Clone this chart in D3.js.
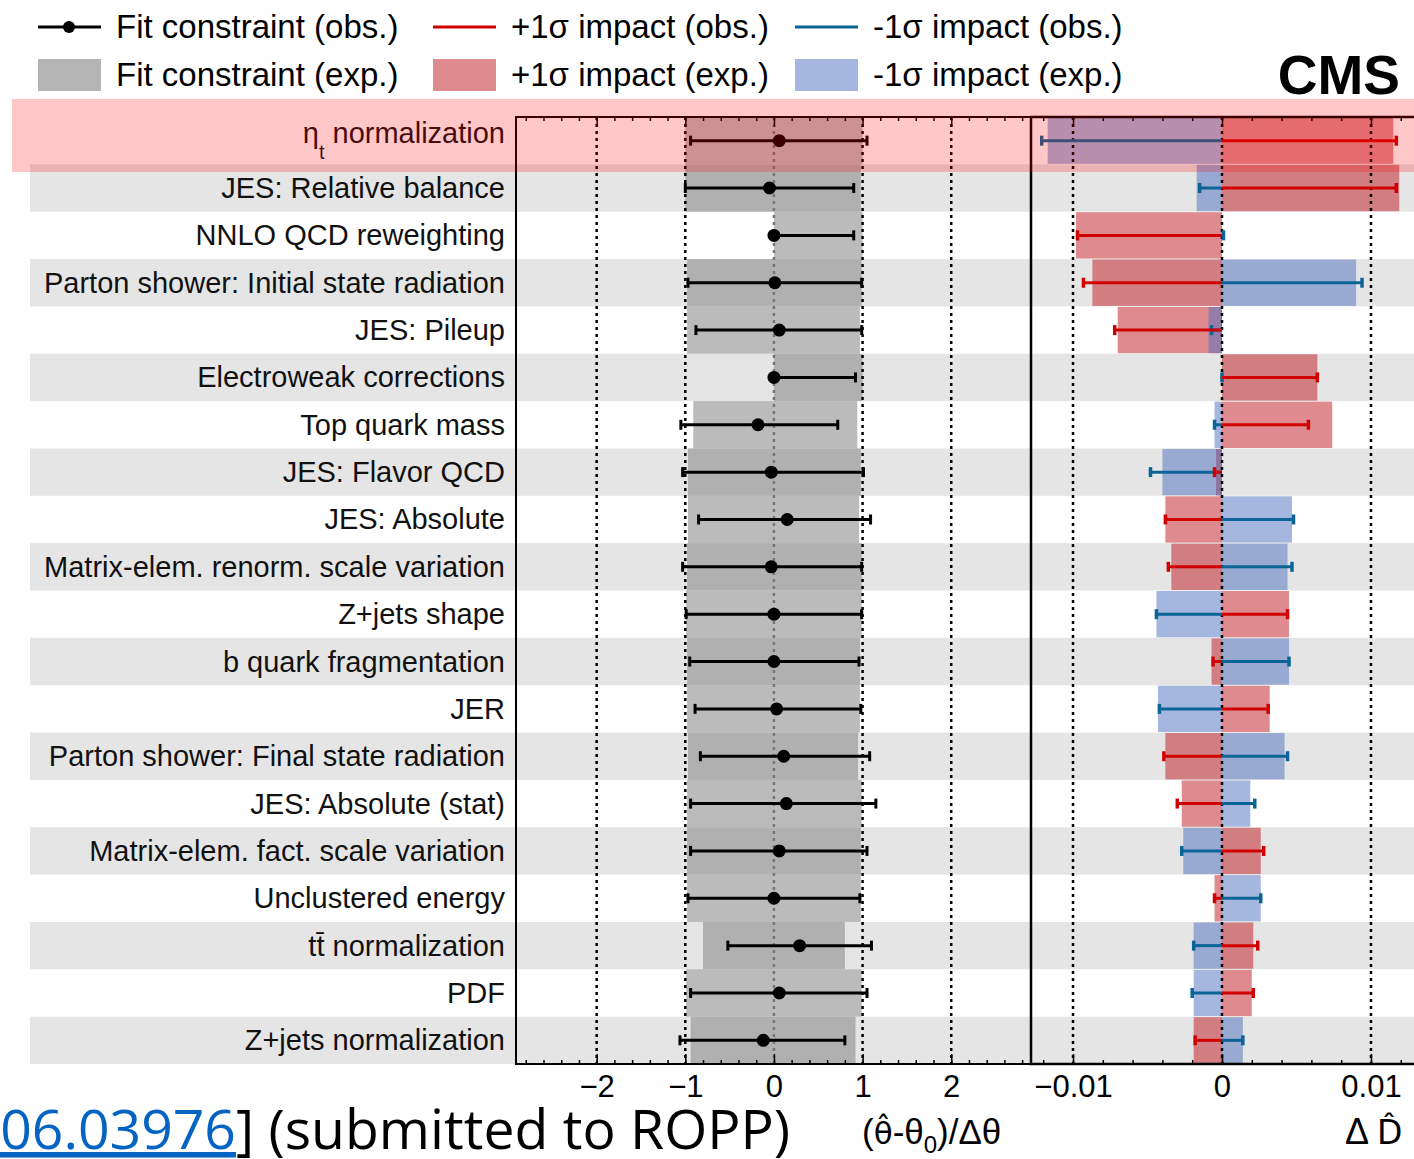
<!DOCTYPE html>
<html>
<head>
<meta charset="utf-8">
<script src="https://cdn.jsdelivr.net/npm/d3@7"></script>
<style>
  body { margin: 0; background: #fff; }
  svg { display: block; font-family: "Liberation Sans", Arial, sans-serif; }
</style>
</head>
<body>
<svg id="chart" width="1414" height="1159"></svg>
<script>
// nuisance parameters, top to bottom
const labels = [
  'η_t normalization', 'JES: Relative balance', 'NNLO QCD reweighting',
  'Parton shower: Initial state radiation', 'JES: Pileup', 'Electroweak corrections',
  'Top quark mass', 'JES: Flavor QCD', 'JES: Absolute', 'Matrix-elem. renorm. scale variation',
  'Z+jets shape', 'b quark fragmentation', 'JER', 'Parton shower: Final state radiation',
  'JES: Absolute (stat)', 'Matrix-elem. fact. scale variation', 'Unclustered energy',
  'tt̄ normalization', 'PDF', 'Z+jets normalization'
];

// fit constraint, expected band
const fitExpLo = [-1.0, -1.0, 0, -0.98, -0.98, 0, -0.91, -0.97, -0.97, -0.98, -0.99, -0.98, -0.98, -0.97, -0.98, -0.98, -0.98, -0.8, -0.99, -0.94];
const fitExpHi = [1.0, 0.98, 1.0, 0.99, 0.97, 1.0, 0.94, 0.98, 0.96, 0.99, 0.99, 0.97, 0.97, 0.95, 0.99, 0.98, 0.98, 0.8, 0.99, 0.92];
// fit constraint, observed
const fitObs = [0.06, -0.05, 0, 0.01, 0.06, 0, -0.18, -0.03, 0.15, -0.03, 0, 0, 0.03, 0.11, 0.14, 0.06, 0, 0.29, 0.06, -0.12];
const fitObsLo = [-0.94, -1.0, 0, -0.97, -0.88, 0, -1.05, -1.03, -0.85, -1.03, -0.99, -0.95, -0.89, -0.83, -0.94, -0.94, -0.97, -0.52, -0.94, -1.06];
const fitObsHi = [1.05, 0.9, 0.9, 0.99, 0.99, 0.92, 0.72, 1.01, 1.09, 0.99, 0.99, 0.96, 0.98, 1.08, 1.15, 1.05, 0.97, 1.1, 1.05, 0.8];

// impacts
const impUpExp = [0.0115, 0.0119, -0.0098, -0.0087, -0.0070, 0.0064, 0.0074, -0.0004, -0.0038, -0.0034, 0.0045, -0.0007, 0.0032, -0.0038, -0.0027, 0.0026, -0.0005, 0.0021, 0.0020, -0.0019];
const impUpObs = [0.0117, 0.0117, -0.0097, -0.0093, -0.0072, 0.0064, 0.0058, -0.0005, -0.0038, -0.0036, 0.0044, -0.0006, 0.0031, -0.0039, -0.0030, 0.0028, -0.0005, 0.0024, 0.0021, -0.0018];
const impDnExp = [-0.0117, -0.0017, 0, 0.0090, -0.0009, 0, -0.0005, -0.0040, 0.0047, 0.0044, -0.0044, 0.0045, -0.0043, 0.0042, 0.0019, -0.0026, 0.0026, -0.0019, -0.0019, 0.0014];
const impDnObs = [-0.0121, -0.0015, 0.0001, 0.0094, -0.0007, 0, -0.0005, -0.0048, 0.0048, 0.0047, -0.0044, 0.0045, -0.0042, 0.0044, 0.0022, -0.0027, 0.0026, -0.0019, -0.0020, 0.0014];

const fitTicks = [-2, -1, 0, 1, 2];
const impTicks = [-0.01, 0, 0.01];

const RED = '#d00000';
const BLUE = '#0a6496';

const svg = d3.select('#chart');
const n = labels.length;

const y = d3.scaleBand().domain(d3.range(n)).range([117, 1064]);
const xFit = d3.scaleLinear().domain([-2.91, 2.90]).range([516, 1031]);
const xImp = d3.scaleLinear().domain([-0.01282, 0.01403]).range([1031, 1431]);
const rowH = y.bandwidth();
const cy = i => y(i) + rowH / 2;

// alternating row backgrounds
svg.append('g')
  .selectAll('rect')
  .data(d3.range(n).filter(i => i % 2 === 1))
  .join('rect')
  .attr('x', 30).attr('width', 1414 - 30)
  .attr('y', i => y(i)).attr('height', rowH)
  .attr('fill', '#e5e5e5');

// labels
const lab = svg.append('g')
  .selectAll('text')
  .data(labels)
  .join('text')
  .attr('x', 505)
  .attr('y', (d, i) => cy(i) + 10)
  .attr('text-anchor', 'end')
  .style('font-size', '29px')
  .attr('fill', '#111');
lab.each(function(d) {
  const t = d3.select(this);
  if (d.startsWith('η_t')) {
    t.attr('y', +t.attr('y') - 8);
    t.append('tspan').text('η');
    t.append('tspan').attr('dy', 16).style('font-size', '20px').text('t');
    t.append('tspan').attr('dy', -16).text(' normalization');
  } else {
    t.text(d);
  }
});

// ---- left panel: fit constraints
const gFit = svg.append('g');
gFit.selectAll('rect')
  .data(d3.range(n))
  .join('rect')
  .attr('x', i => xFit(fitExpLo[i]))
  .attr('width', i => xFit(fitExpHi[i]) - xFit(fitExpLo[i]))
  .attr('y', i => y(i)).attr('height', rowH)
  .attr('fill', '#8a8a8a').attr('fill-opacity', 0.58);

gFit.selectAll('line.grid')
  .data(fitTicks)
  .join('line')
  .attr('class', 'grid')
  .attr('x1', d => xFit(d)).attr('x2', d => xFit(d))
  .attr('y1', 117).attr('y2', 1064)
  .attr('stroke', d => d === 0 ? '#777' : '#000')
  .attr('stroke-width', 2.5)
  .attr('stroke-dasharray', '3,4');

const eb = gFit.append('g').selectAll('g')
  .data(d3.range(n))
  .join('g');
eb.append('line')
  .attr('x1', i => xFit(fitObsLo[i])).attr('x2', i => xFit(fitObsHi[i]))
  .attr('y1', cy).attr('y2', cy)
  .attr('stroke', '#000').attr('stroke-width', 3);
eb.append('line')
  .attr('x1', i => xFit(fitObsLo[i])).attr('x2', i => xFit(fitObsLo[i]))
  .attr('y1', i => cy(i) - 5).attr('y2', i => cy(i) + 5)
  .attr('stroke', '#000').attr('stroke-width', 3);
eb.append('line')
  .attr('x1', i => xFit(fitObsHi[i])).attr('x2', i => xFit(fitObsHi[i]))
  .attr('y1', i => cy(i) - 5).attr('y2', i => cy(i) + 5)
  .attr('stroke', '#000').attr('stroke-width', 3);
eb.append('circle')
  .attr('cx', i => xFit(fitObs[i])).attr('cy', cy)
  .attr('r', 6.5).attr('fill', '#000');

// ---- right panel: impacts
const gImp = svg.append('g');
const bar = (vals, color) => gImp.append('g')
  .selectAll('rect')
  .data(d3.range(n))
  .join('rect')
  .attr('x', i => Math.min(xImp(0), xImp(vals[i])))
  .attr('width', i => Math.abs(xImp(vals[i]) - xImp(0)))
  .attr('y', i => y(i) + 0.5).attr('height', rowH - 1)
  .attr('fill', color).attr('fill-opacity', 0.5);
bar(impUpExp, '#bd151d');
bar(impDnExp, '#4b6fbf');

gImp.selectAll('line.grid')
  .data(impTicks)
  .join('line')
  .attr('class', 'grid')
  .attr('x1', d => xImp(d)).attr('x2', d => xImp(d))
  .attr('y1', 117).attr('y2', 1064)
  .attr('stroke', '#000')
  .attr('stroke-width', 2.5)
  .attr('stroke-dasharray', '3,4');

const impLine = (vals, color) => {
  const g = gImp.append('g').selectAll('g').data(d3.range(n)).join('g');
  g.append('line')
    .attr('x1', xImp(0)).attr('x2', i => xImp(vals[i]))
    .attr('y1', cy).attr('y2', cy)
    .attr('stroke', color).attr('stroke-width', 3);
  g.append('line')
    .attr('x1', i => xImp(vals[i])).attr('x2', i => xImp(vals[i]))
    .attr('y1', i => cy(i) - 5).attr('y2', i => cy(i) + 5)
    .attr('stroke', color).attr('stroke-width', 3.5);
};
impLine(impDnObs, BLUE);
impLine(impUpObs, RED);

// ---- frames and ticks (ROOT style, pointing inwards)
const axes = (scale, major, minor) => {
  const bottom = svg.append('g').attr('transform', 'translate(0,1064)');
  bottom.call(d3.axisBottom(scale).tickValues(minor).tickSize(-4).tickFormat(''));
  bottom.append('g').call(d3.axisBottom(scale).tickValues(major).tickSize(-10).tickPadding(11)
    .tickFormat(d3.format('~g')));
  const top = svg.append('g').attr('transform', 'translate(0,117)');
  top.call(d3.axisTop(scale).tickValues(minor).tickSize(-4).tickFormat(''));
  top.append('g').call(d3.axisTop(scale).tickValues(major).tickSize(-10).tickFormat(''));
  svg.selectAll('.domain').remove();
  svg.selectAll('.tick text').filter(function() { return this.textContent === ''; }).remove();
  svg.selectAll('.tick line').attr('stroke', '#000').attr('stroke-width', 1.5);
  svg.selectAll('.tick text').style('font-size', '31px').style('font-family', '"Liberation Sans", Arial, sans-serif').attr('fill', '#000');
};
axes(xFit, fitTicks, d3.range(-28, 29, 2).map(v => v / 10));
axes(xImp, impTicks, d3.range(-6, 8).map(v => v * 0.002));

svg.append('rect')
  .attr('x', 516).attr('y', 117).attr('width', 1031 - 516).attr('height', 1064 - 117)
  .attr('fill', 'none').attr('stroke', '#000').attr('stroke-width', 2);
svg.append('rect')
  .attr('x', 1031).attr('y', 117).attr('width', 400).attr('height', 1064 - 117)
  .attr('fill', 'none').attr('stroke', '#000').attr('stroke-width', 2.5);

// axis titles
const t1 = svg.append('text').attr('x', 862).attr('y', 1144).style('font-size', '35px');
t1.append('tspan').text('(');
t1.append('tspan').style('font-family', '"DejaVu Sans", sans-serif').style('font-size', '31px').text('θ̂');
t1.append('tspan').text('-θ');
t1.append('tspan').attr('dy', 9).style('font-size', '24px').text('0');
t1.append('tspan').attr('dy', -9).text(')/Δθ');
const t2 = svg.append('text').attr('x', 1345).attr('y', 1144).style('font-size', '36px');
t2.append('tspan').text('Δ ');
t2.append('tspan').style('font-family', '"DejaVu Sans", sans-serif').style('font-size', '33px').text('D̂');

// ---- legend
const leg = svg.append('g').style('font-size', '33px');
const legItems = [
  { x: 38, y: 27, kind: 'obsFit', text: 'Fit constraint (obs.)' },
  { x: 38, y: 75, kind: 'box', color: '#b4b4b4', text: 'Fit constraint (exp.)' },
  { x: 433, y: 27, kind: 'line', color: RED, text: '+1σ impact (obs.)' },
  { x: 433, y: 75, kind: 'box', color: '#df8a8f', text: '+1σ impact (exp.)' },
  { x: 795, y: 27, kind: 'line', color: BLUE, text: '-1σ impact (obs.)' },
  { x: 795, y: 75, kind: 'box', color: '#a5b7df', text: '-1σ impact (exp.)' }
];
legItems.forEach(d => {
  if (d.kind === 'box') {
    leg.append('rect').attr('x', d.x).attr('y', d.y - 16).attr('width', 63).attr('height', 32).attr('fill', d.color);
  } else {
    leg.append('line').attr('x1', d.x).attr('x2', d.x + 63).attr('y1', d.y).attr('y2', d.y)
      .attr('stroke', d.color || '#000').attr('stroke-width', 3);
    if (d.kind === 'obsFit') leg.append('circle').attr('cx', d.x + 31).attr('cy', d.y).attr('r', 6).attr('fill', '#000');
  }
  leg.append('text').attr('x', d.x + 78).attr('y', d.y + 11).text(d.text);
});

svg.append('text').attr('x', 1400).attr('y', 94).attr('text-anchor', 'end')
  .style('font-size', '55px').style('font-weight', 'bold').text('CMS');

// highlight on the first row
svg.append('rect')
  .attr('x', 12).attr('y', 99).attr('width', 1414 - 12).attr('height', 73)
  .attr('fill', 'rgb(255,0,0)').attr('fill-opacity', 0.22);

// slide footer, clipped on the left
const footFont = '"Open Sans", Lato, sans-serif';
const probe = svg.append('text').style('font-family', footFont).style('font-size', '56px')
  .text('06.03976] (submitted to ROPP)');
const footSize = 56 * 790 / probe.node().getComputedTextLength();
probe.remove();
const foot = svg.append('text').attr('x', 790).attr('y', 1149).attr('text-anchor', 'end')
  .style('font-family', footFont).style('font-size', footSize + 'px');
foot.append('tspan').text('[');
foot.append('tspan').attr('fill', '#0563c1').style('text-decoration', 'underline').text('arXiv:2406.03976');
foot.append('tspan').text('] (submitted to ROPP)');
</script>
</body>
</html>
